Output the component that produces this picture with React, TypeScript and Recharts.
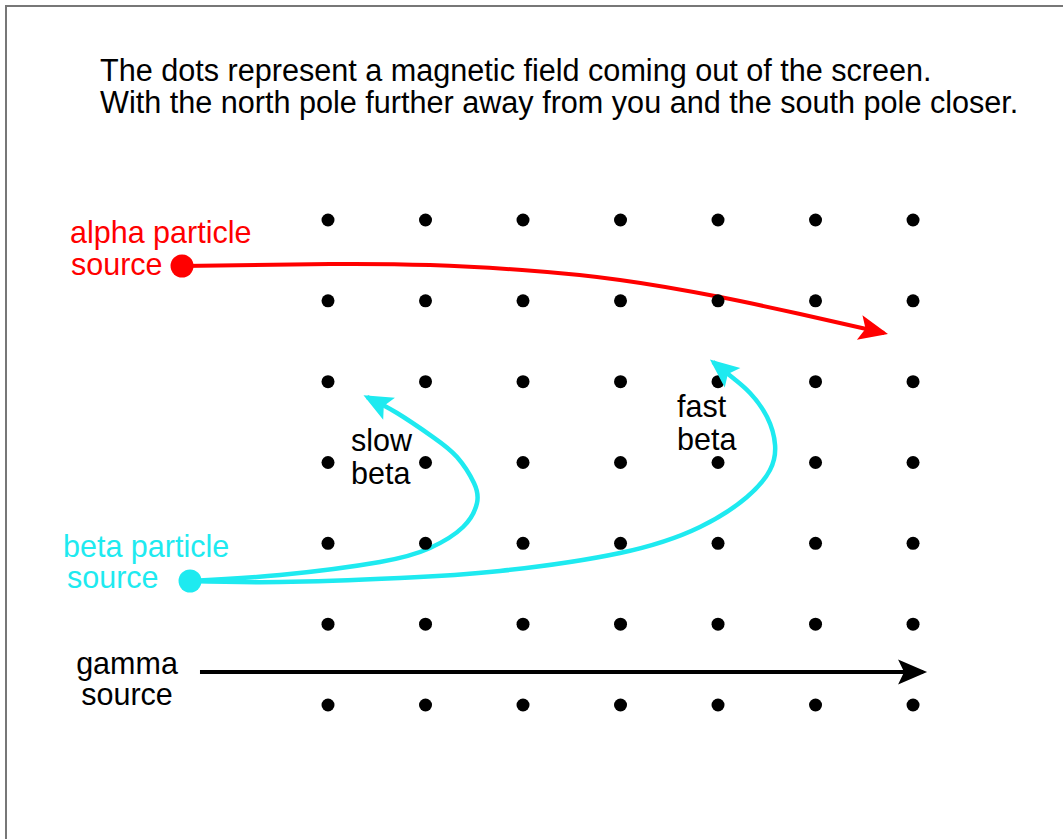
import { ComposedChart, XAxis, YAxis, Scatter, Line } from 'recharts';

// Field units: the grid of field dots sits on 100..700 in both directions.
const dotColumns = [100, 200, 300, 400, 500, 600, 700];
const dotRows = [100, 200, 300, 400, 500, 600, 700];

// Particle sources
const alphaSource = [{ x: -49.7, y: 156.9 }];
const betaSource = [{ x: -41.5, y: 546.6 }];

// Paths (field units, y grows downward)
const alphaPath = [
  { x: -49.7, y: 156.9 },
  { x: 102.1, y: 154.4 },
  { x: 204.6, y: 155.7 },
  { x: 299.0, y: 161.9 },
  { x: 399.5, y: 174.2 },
  { x: 502.1, y: 195.3 },
  { x: 584.1, y: 216.3 },
  { x: 670.3, y: 239.8 },
];

const slowBetaPath = [
  { x: -41.5, y: 546.6 },
  { x: 50.8, y: 539.2 },
  { x: 153.3, y: 523.1 },
  { x: 204.6, y: 505.8 },
  { x: 238.5, y: 479.8 },
  { x: 252.8, y: 450.1 },
  { x: 249.7, y: 425.4 },
  { x: 232.3, y: 393.2 },
  { x: 207.7, y: 368.5 },
  { x: 170.8, y: 338.8 },
  { x: 140.0, y: 319.0 },
];

const fastBetaPath = [
  { x: -41.5, y: 546.6 },
  { x: 50.8, y: 547.9 },
  { x: 173.8, y: 542.9 },
  { x: 276.4, y: 534.2 },
  { x: 399.5, y: 512.0 },
  { x: 481.5, y: 479.8 },
  { x: 529.7, y: 442.7 },
  { x: 553.3, y: 409.3 },
  { x: 558.5, y: 378.4 },
  { x: 550.3, y: 343.7 },
  { x: 532.8, y: 314.0 },
  { x: 515.4, y: 295.5 },
  { x: 494.9, y: 275.7 },
];

const gammaPath = [
  { x: -31.3, y: 659.2 },
  { x: 710.3, y: 659.2 },
];

const titleLines = [
  'The dots represent a magnetic field coming out of the screen.',
  'With the north pole further away from you and the south pole closer.',
];

const fieldDots = dotRows.flatMap((y) => dotColumns.map((x) => ({ x, y })));

const RED = '#ff0000';
const CYAN = '#1eeaf0';
const FONT = '"Liberation Sans", Arial, sans-serif';

// draws an arrow head on the last point of a line, pointing along the last segment
const makeArrowDot = (color: string, count: number) => {
  let prev = { x: 0, y: 0 };
  return (props: any) => {
    const { cx, cy, index } = props;
    if (index !== count - 1) {
      prev = { x: cx, y: cy };
      return <g key={`dot-${index}`} />;
    }
    const angle = (Math.atan2(cy - prev.y, cx - prev.x) * 180) / Math.PI;
    return (
      <path
        key={`dot-${index}`}
        d="M4,0 L-25,-12.5 L-19,0 L-25,12.5 Z"
        fill={color}
        transform={`translate(${cx},${cy}) rotate(${angle})`}
      />
    );
  };
};

const fieldDot = (props: any) => <circle cx={props.cx} cy={props.cy} r={6.5} fill="#000" />;
const sourceDot = (color: string) => (props: any) => (
  <circle cx={props.cx} cy={props.cy} r={11.5} fill={color} />
);

export default function App() {
  return (
    <div
      style={{
        position: 'absolute',
        left: 0,
        top: 0,
        width: 1063,
        height: 839,
        overflow: 'hidden',
        background: '#fff',
      }}
    >
      {/* frame */}
      <div
        style={{
          position: 'absolute',
          left: 5,
          top: 5,
          width: 1100,
          height: 900,
          borderTop: '2px solid #777',
          borderLeft: '2px solid #777',
        }}
      />

      <div style={{ position: 'absolute', left: 0, top: 0 }}>
        <ComposedChart width={1063} height={839} margin={{ top: 0, right: 0, bottom: 0, left: 0 }}>
          <XAxis type="number" dataKey="x" domain={[-236.4, 853.8]} hide />
          <YAxis type="number" dataKey="y" domain={[-172.2, 865.8]} reversed hide />
          <Scatter data={fieldDots} shape={fieldDot} isAnimationActive={false} />
          <Line
            data={gammaPath}
            dataKey="y"
            type="linear"
            stroke="#000"
            strokeWidth={4}
            dot={makeArrowDot('#000', gammaPath.length)}
            activeDot={false}
            isAnimationActive={false}
          />
          <Line
            data={alphaPath}
            dataKey="y"
            type="natural"
            stroke={RED}
            strokeWidth={4}
            dot={makeArrowDot(RED, alphaPath.length)}
            activeDot={false}
            isAnimationActive={false}
          />
          <Line
            data={slowBetaPath}
            dataKey="y"
            type="natural"
            stroke={CYAN}
            strokeWidth={4.5}
            dot={makeArrowDot(CYAN, slowBetaPath.length)}
            activeDot={false}
            isAnimationActive={false}
          />
          <Line
            data={fastBetaPath}
            dataKey="y"
            type="natural"
            stroke={CYAN}
            strokeWidth={4.5}
            dot={makeArrowDot(CYAN, fastBetaPath.length)}
            activeDot={false}
            isAnimationActive={false}
          />
          <Scatter data={alphaSource} shape={sourceDot(RED)} isAnimationActive={false} />
          <Scatter data={betaSource} shape={sourceDot(CYAN)} isAnimationActive={false} />
        </ComposedChart>
      </div>

      {/* text labels */}
      <svg
        width={1063}
        height={839}
        style={{ position: 'absolute', left: 0, top: 0, pointerEvents: 'none' }}
        fontFamily={FONT}
        fontSize={30.5}
      >
        <text x={100} y={81} fill="#000" fontSize={30.6}>{titleLines[0]}</text>
        <text x={100} y={113} fill="#000" fontSize={30.6}>{titleLines[1]}</text>

        <text x={70} y={243} fill={RED}>alpha particle</text>
        <text x={71} y={275} fill={RED}>source</text>

        <text x={63} y={557} fill={CYAN}>beta particle</text>
        <text x={67} y={588} fill={CYAN}>source</text>

        <text x={127} y={674} fill="#000" textAnchor="middle">gamma</text>
        <text x={127} y={705} fill="#000" textAnchor="middle">source</text>

        <text x={351} y={451} fill="#000">slow</text>
        <text x={351} y={484} fill="#000">beta</text>

        <text x={677} y={417} fill="#000">fast</text>
        <text x={677} y={450} fill="#000">beta</text>
      </svg>
    </div>
  );
}
